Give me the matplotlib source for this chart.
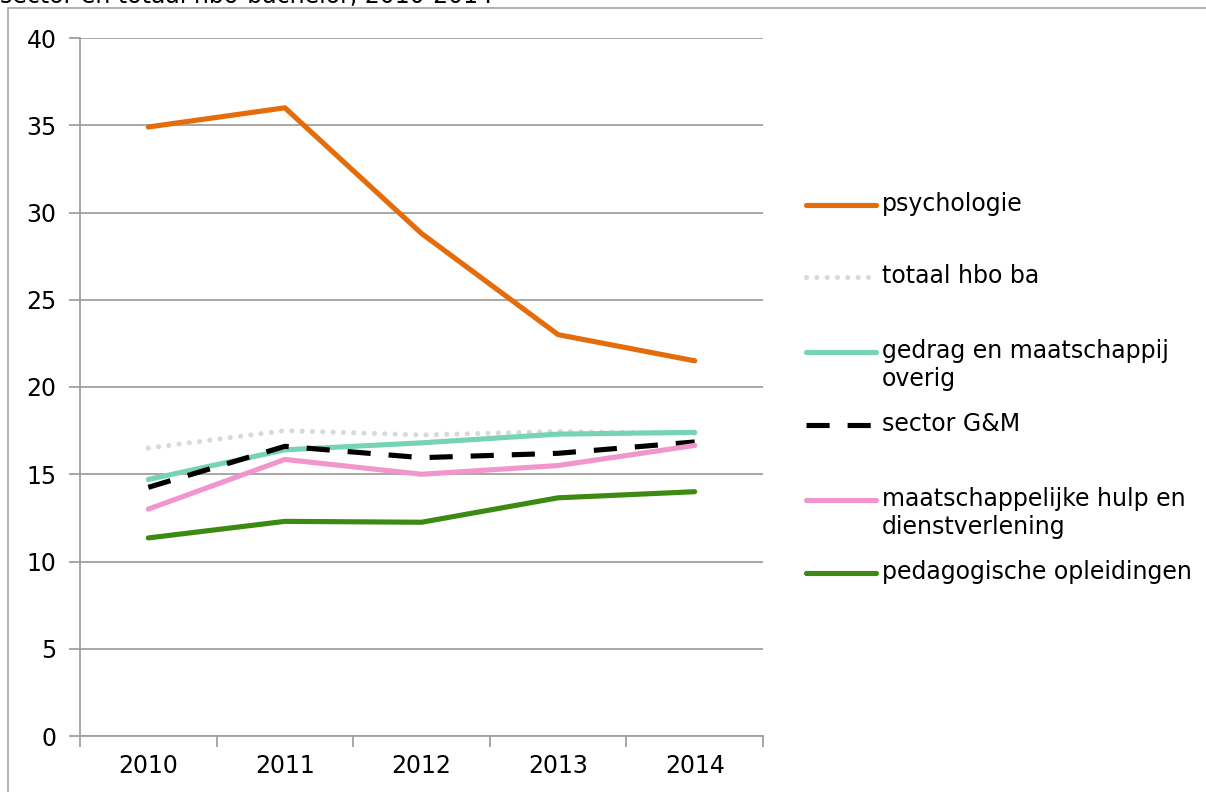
import matplotlib
matplotlib.use('Agg')
import matplotlib.pyplot as plt
from matplotlib.lines import Line2D
from matplotlib.patches import Rectangle

years = ['2010', '2011', '2012', '2013', '2014']

psychologie = [34.9, 36.0, 28.8, 23.0, 21.5]
totaal_hbo_ba = [16.5, 17.5, 17.25, 17.45, 17.35]
gedrag_overig = [14.7, 16.4, 16.8, 17.3, 17.4]
sector_gm = [14.25, 16.6, 15.95, 16.2, 16.85]
maatsch_hulp = [13.0, 15.85, 15.0, 15.5, 16.65]
pedagogisch = [11.35, 12.3, 12.25, 13.65, 14.0]

labels = ['psychologie', 'totaal hbo ba', 'gedrag en maatschappij\noverig',
          'sector G&M', 'maatschappelijke hulp en\ndienstverlening',
          'pedagogische opleidingen']
series = [psychologie, totaal_hbo_ba, gedrag_overig, sector_gm, maatsch_hulp, pedagogisch]

styles = [
    dict(color='#E46C0A', linestyle='-'),
    dict(color='#D9D9D9', linestyle=(0, (0.01, 2.0)), dash_capstyle='round'),
    dict(color='#77D3B7', linestyle='-'),
    dict(color='#000000', linestyle=(0, (4.5, 3.5))),
    dict(color='#F196CD', linestyle='-'),
    dict(color='#3C8A11', linestyle='-'),
]
LW = 3.7
FS = 17

fig = plt.figure(figsize=(12.06, 7.92), dpi=100)
fig.patch.set_facecolor('white')

# chart area frame (cut off at right/bottom like the source)
fig.patches.append(Rectangle((8 / 1206, -0.05), 1.2, 1 - 8 / 792 + 0.05,
                             transform=fig.transFigure, fill=False,
                             edgecolor='#A6A6A6', linewidth=1.2))
fig.text(0.0, 1 - 3 / 792, 'sector en totaal hbo-bachelor, 2010-2014',
         fontsize=FS, va='baseline', ha='left', color='#000000')

ax = fig.add_axes([80 / 1206, 1 - 736 / 792, (763 - 80) / 1206, (736 - 38) / 792])
x = list(range(len(years)))

order = [0, 1, 2, 4, 5, 3]
for i in order:
    ax.plot(x, series[i], linewidth=LW, solid_capstyle='round', zorder=3 + i, **styles[i])

ax.set_xlim(-0.5, len(years) - 0.5)
ax.set_ylim(0, 40)
ax.set_yticks(range(0, 41, 5))
ax.yaxis.grid(True, color='#A0A0A0', linewidth=1.3)
ax.set_axisbelow(True)
ax.set_xticks([i - 0.5 for i in range(len(years) + 1)])
ax.set_xticklabels([])
ax.set_xticks(x, minor=True)
ax.set_xticklabels(years, minor=True, fontsize=FS)
ax.tick_params(axis='x', which='minor', length=0, pad=13)
ax.tick_params(axis='x', which='major', length=8, color='#A0A0A0', width=1.3)
ax.tick_params(axis='y', length=8, color='#A0A0A0', width=1.3, labelsize=FS, pad=9)
for s in ['top', 'right']:
    ax.spines[s].set_visible(False)
for s in ['left', 'bottom']:
    ax.spines[s].set_color('#A0A0A0')
    ax.spines[s].set_linewidth(1.3)

# legend in Excel style: handle aligned with the first label line
leg_y = [205, 277, 352, 425, 500, 573]
for i, lab in enumerate(labels):
    yy = 1 - leg_y[i] / 792
    fig.add_artist(Line2D([806 / 1206, 876 / 1206], [yy, yy], transform=fig.transFigure,
                          linewidth=LW, solid_capstyle='round', **styles[i]))
    fig.text(882 / 1206, yy + 13 / 792, lab, fontsize=FS, va='top', ha='left',
             linespacing=1.22)

fig.savefig('out.png', dpi=100, facecolor='white')
